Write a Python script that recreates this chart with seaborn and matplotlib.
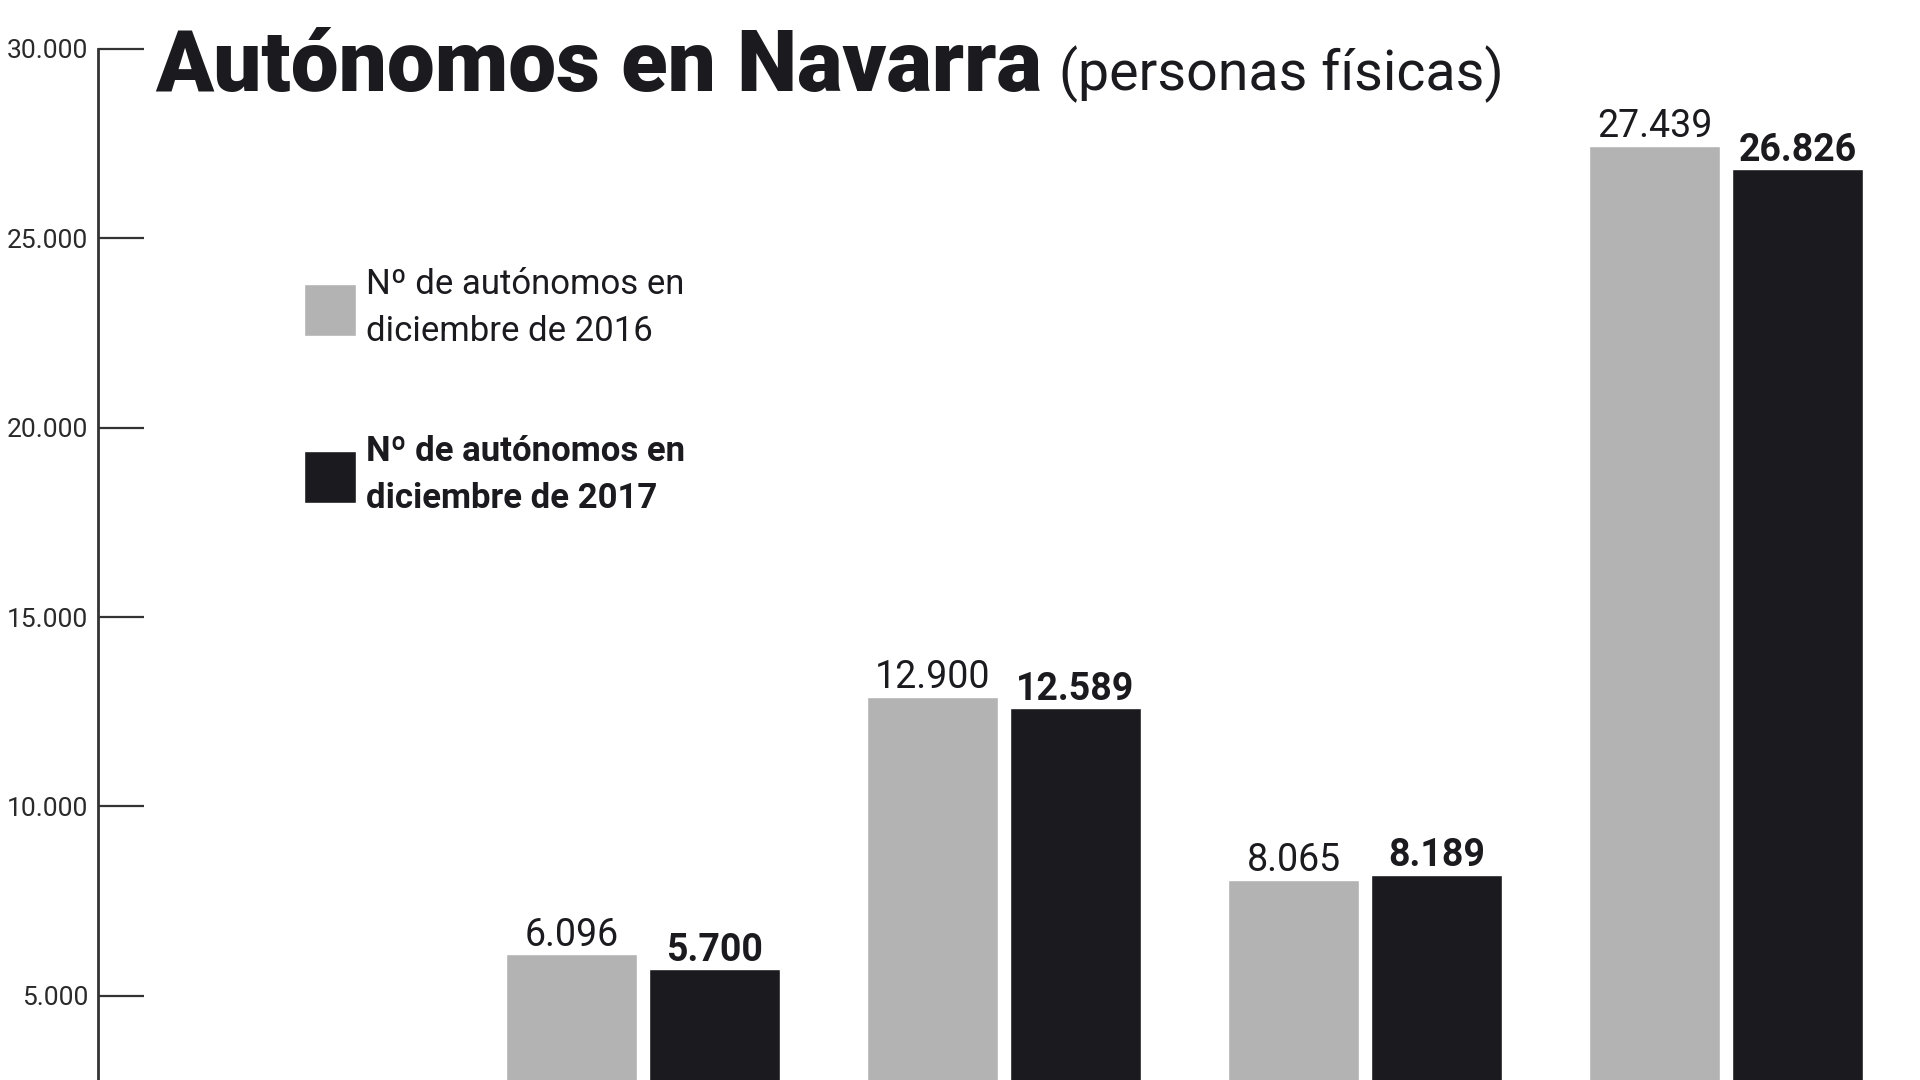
import matplotlib.pyplot as plt
import matplotlib.ticker as mticker
import pandas as pd
import seaborn as sns

# the category names are cut off in the source picture
categorias = ['Grupo 1', 'Grupo 2', 'Grupo 3', 'Grupo 4']
series = ['Nº de autónomos en\ndiciembre de 2016',
          'Nº de autónomos en\ndiciembre de 2017']
autonomos_2016 = [6096, 12900, 8065, 27439]
autonomos_2017 = [5700, 12589, 8189, 26826]
y_ticks = [5000, 10000, 15000, 20000, 25000, 30000]

df = pd.DataFrame({
    'categoria': categorias * 2,
    'serie': [series[0]] * len(categorias) + [series[1]] * len(categorias),
    'autonomos': autonomos_2016 + autonomos_2017,
})

sns.set_style('white')
plt.rcParams['font.family'] = ['Roboto', 'DejaVu Sans']

gris = '#b3b3b3'
negro = '#1b1a1f'


def puntos(v):
    return f'{v:,.0f}'.replace(',', '.')


fig = plt.figure(figsize=(19.2, 10.8), dpi=100)
ax = fig.add_axes([98 / 1920, 0, 1 - 98 / 1920, 1 - 49 / 1080])

sns.barplot(data=df, x='categoria', y='autonomos', hue='serie',
            palette=[gris, negro], saturation=1, width=0.79, gap=0.08,
            errorbar=None, ax=ax)

for cont, peso in zip(ax.containers, ['normal', 'bold']):
    ax.bar_label(cont, labels=[puntos(v) for v in cont.datavalues],
                 padding=0.5, fontsize=27, fontweight=peso, color=negro)

# legend
handles, labels = ax.get_legend_handles_labels()
leg = ax.legend(handles, labels, loc='upper left',
                bbox_to_anchor=(304 / 1920, 1 - 268 / 1080),
                bbox_transform=fig.transFigure, frameon=False, fontsize=25,
                handlelength=1.5, handleheight=1.93, labelspacing=2.5,
                handletextpad=0.3, borderpad=0, borderaxespad=0)
for t in leg.get_texts():
    t.set_color(negro)
    t.set_linespacing(1.55)
leg.get_texts()[1].set_fontweight('bold')

# axes
ax.set_xlim(-1.51, 3.537)
ax.set_ylim(2778, 30000)
ax.set_yticks(y_ticks)
ax.yaxis.set_major_formatter(mticker.FuncFormatter(lambda v, p: puntos(v)))
ax.set_xticks([])
ax.set_xlabel('')
ax.set_ylabel('')
ax.tick_params(axis='y', left=True, direction='in', length=33, width=1.6,
               color='#333333', pad=7, labelsize=19, labelcolor='#2a2a2a')
sns.despine(ax=ax, top=True, right=True, bottom=True)
ax.spines['left'].set_linewidth(2)
ax.spines['left'].set_color('#333333')

# title, with the subtitle right after it
titulo = fig.text(155 / 1920, 1 - 91 / 1080, 'Autónomos en Navarra',
                  fontsize=61.5, fontweight='black', va='baseline', color=negro)
fig.canvas.draw()
fin = titulo.get_window_extent().x1
fig.text((fin + 17) / 1920, 1 - 90 / 1080, '(personas físicas)', fontsize=40,
         va='baseline', color=negro)

fig.savefig('out.png', dpi=100)
